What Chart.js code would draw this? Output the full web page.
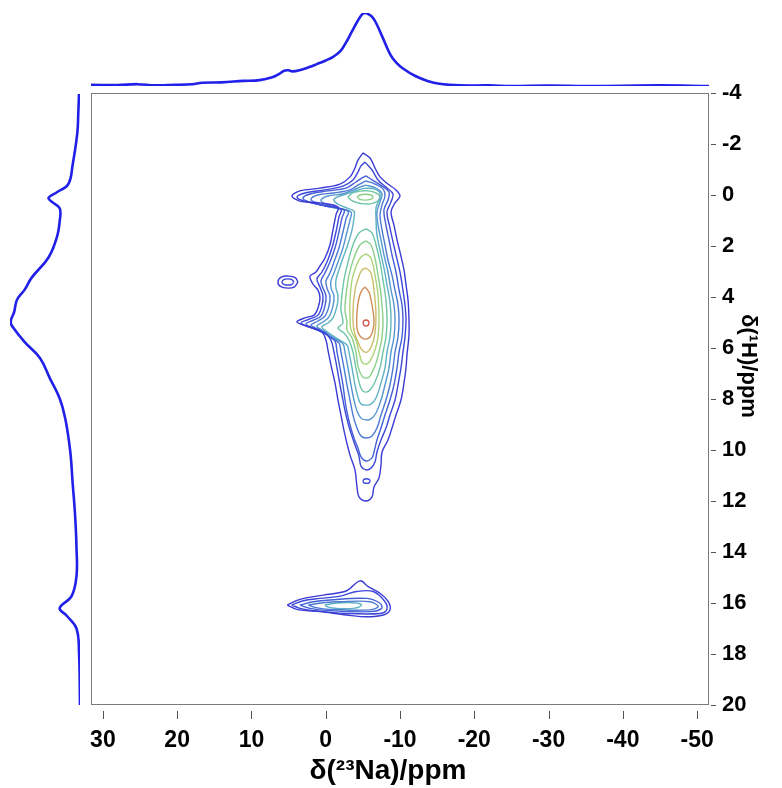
<!DOCTYPE html>
<html>
<head>
<meta charset="utf-8">
<script src="https://cdn.jsdelivr.net/npm/chart.js@4.4.0/dist/chart.umd.min.js"></script>
<style>
  html, body { margin: 0; padding: 0; background: #fff; }
  #wrap { position: relative; width: 782px; height: 788px; }
  #wrap canvas { position: absolute; left: 0; top: 0; }
</style>
</head>
<body>
<div id="wrap">
  <canvas id="mainChart" width="782" height="788"></canvas>
  <canvas id="topChart" width="782" height="92"></canvas>
  <canvas id="leftChart" width="91" height="788"></canvas>
</div>
<script>
// axis ranges and tick labels (ppm)
var naRange = [-51.6, 31.6];
var hRange = [-4, 20];
var naTicks = [30, 20, 10, 0, -10, -20, -30, -40, -50];
var hTicks = [-4, -2, 0, 2, 4, 6, 8, 10, 12, 14, 16, 18, 20];

// 23Na projection (top): shift in ppm, intensity in %
var topShift = [31.6, 28, 25.4, 23, 20.4, 18, 16.6, 14, 11.1, 8.9, 7.2, 6.2, 5.6, 5.0, 4.5, 3.4, 2.2, 1.2, 0, -1.0, -2.0, -2.7, -3.5, -4.3, -4.9, -5.3, -5.8, -6.3, -6.8, -7.6, -8.7, -9.5, -10.4, -12.0, -13.7, -15.3, -18.1, -22, -25, -30, -35, -40, -45, -51.6];
var topInt = [1.5, 1.2, 2.5, 1, 1.5, 2.5, 4.5, 5, 7, 8, 12, 17, 21, 21.5, 20, 22, 26, 30, 35, 40, 48, 59, 74, 89, 98, 100, 98, 94, 86, 68, 43, 32, 24, 14, 7, 3, 0.8, 0.8, 0, 0.5, 0, 0.3, 0.8, 0];

// 1H projection (left): shift in ppm, intensity in %
var leftShift = [-3.96, -3.24, -2.45, -1.19, -0.43, -0.11, 0.11, 0.27, 0.52, 1.02, 1.65, 2.45, 3.24, 3.71, 4.11, 4.58, 4.98, 5.22, 5.77, 6.4, 7.19, 7.98, 8.77, 10.04, 11.3, 12.57, 13.83, 14.94, 15.73, 16.2, 16.5, 17.0, 17.95, 20];
var leftInt = [1.4, 2.4, 3.8, 10.5, 16.7, 33, 45, 40, 29, 29, 33, 45, 69, 79, 90, 94, 99, 95, 79, 57, 43, 29, 21, 14, 10.5, 7, 5, 5, 12, 29, 19, 5, 1.4, 0];

// contour lines, [d(23Na), d(1H)] in ppm, outer level first
var ridgeL1 = [[-5.02,-1.65],[-5.96,-1.45],[-6.63,-1.06],[-7.31,-0.71],[-8.38,-0.43],[-9.46,-0.20],[-10.0,0.04],[-9.33,0.31],[-8.79,0.67],[-9.19,1.18],[-9.60,1.76],[-10.0,2.24],[-10.54,2.94],[-10.81,3.53],[-11.08,4.12],[-11.21,4.90],[-11.21,5.49],[-10.94,6.27],[-10.81,6.78],[-10.54,7.37],[-10.13,8.04],[-9.46,8.63],[-8.92,9.14],[-8.38,9.61],[-7.58,10.08],[-7.44,10.59],[-7.17,11.10],[-6.50,11.45],[-6.23,11.84],[-5.42,12.0],[-4.48,11.84],[-4.21,11.45],[-3.94,10.78],[-3.27,10.20],[-2.59,9.41],[-2.05,8.63],[-1.65,8.04],[-1.25,7.37],[-0.71,6.67],[-0.30,6.08],[-0.03,5.69],[0.51,5.37],[2.12,5.18],[3.87,4.98],[2.79,4.82],[1.58,4.71],[1.04,4.43],[0.77,4.04],[1.04,3.73],[1.72,3.49],[2.12,3.18],[1.31,3.02],[0.77,2.78],[0.10,2.47],[-0.57,1.96],[-0.98,1.37],[-1.38,0.78],[-1.65,0.47],[0.77,0.31],[3.47,0.24],[4.55,0.04],[3.47,-0.16],[0.77,-0.27],[-1.92,-0.43],[-3.27,-0.71],[-3.94,-1.06],[-4.34,-1.37]];
var ridgeL2 = [[-5.29,-1.29],[-6.23,-0.98],[-7.04,-0.59],[-8.11,-0.31],[-9.06,-0.04],[-8.79,0.27],[-8.25,0.67],[-8.65,1.29],[-9.06,1.84],[-9.46,2.35],[-10.0,3.02],[-10.40,3.73],[-10.67,4.31],[-10.81,4.90],[-10.67,5.57],[-10.40,6.16],[-10.13,6.78],[-9.73,7.45],[-9.33,8.04],[-8.65,8.63],[-8.11,9.14],[-7.44,9.61],[-6.90,10.08],[-6.63,10.47],[-6.09,10.71],[-5.42,10.78],[-4.75,10.63],[-4.48,10.24],[-3.94,9.80],[-3.27,9.22],[-2.73,8.63],[-2.32,8.04],[-1.92,7.45],[-1.52,6.78],[-1.11,6.16],[-0.71,5.69],[0.10,5.41],[1.85,5.22],[3.33,5.02],[2.12,4.86],[1.04,4.71],[0.51,4.35],[0.37,3.96],[0.78,3.61],[1.18,3.29],[0.51,3.02],[-0.17,2.63],[-0.84,2.08],[-1.38,1.45],[-1.78,0.86],[-2.05,0.55],[0.51,0.39],[2.93,0.24],[3.87,0.08],[2.80,-0.08],[0.10,-0.20],[-2.32,-0.35],[-3.67,-0.59],[-4.34,-0.90],[-4.75,-1.14]];
var tailIslet = [[-5.0,11.22],[-5.15,11.15],[-5.49,11.13],[-5.83,11.15],[-5.96,11.22],[-5.83,11.29],[-5.49,11.31],[-5.15,11.29]];
var ridgeL3 = [[-5.42,-0.75],[-6.23,-0.59],[-7.58,-0.35],[-8.52,-0.12],[-8.38,0.20],[-7.84,0.59],[-8.11,1.18],[-8.52,1.76],[-8.92,2.35],[-9.46,3.02],[-9.87,3.73],[-10.27,4.31],[-10.40,4.90],[-10.27,5.57],[-9.87,6.16],[-9.60,6.78],[-9.19,7.45],[-8.65,8.04],[-7.98,8.63],[-7.44,9.14],[-6.90,9.61],[-6.50,10.08],[-6.23,10.31],[-5.42,10.43],[-4.75,10.27],[-4.34,9.92],[-3.80,9.53],[-3.27,9.02],[-2.86,8.51],[-2.59,8.04],[-2.32,7.45],[-1.92,6.78],[-1.52,6.16],[-1.25,5.73],[-0.17,5.49],[1.45,5.25],[2.66,5.06],[1.58,4.90],[0.64,4.75],[0.10,4.35],[-0.03,3.96],[0.37,3.65],[0.64,3.37],[0.10,3.06],[-0.57,2.63],[-1.25,2.08],[-1.78,1.45],[-2.19,0.90],[-2.46,0.59],[0.10,0.43],[2.26,0.27],[3.07,0.12],[2.12,-0.04],[-0.30,-0.16],[-2.73,-0.27],[-4.07,-0.51],[-4.88,-0.67]];
var ridgeL4 = [[-5.42,-0.55],[-6.63,-0.43],[-7.71,-0.24],[-7.98,0.04],[-7.58,0.39],[-7.31,0.78],[-7.58,1.37],[-7.98,1.96],[-8.38,2.55],[-8.92,3.14],[-9.33,3.73],[-9.73,4.31],[-9.87,4.90],[-9.73,5.57],[-9.33,6.16],[-9.06,6.78],[-8.65,7.45],[-8.11,8.04],[-7.44,8.63],[-6.90,9.14],[-6.23,9.45],[-5.42,9.53],[-4.75,9.45],[-4.21,9.14],[-3.67,8.63],[-3.27,8.04],[-2.86,7.45],[-2.46,6.78],[-2.05,6.16],[-1.78,5.80],[-0.57,5.57],[0.78,5.29],[1.98,5.10],[1.04,4.94],[0.10,4.75],[-0.44,4.35],[-0.57,3.96],[-0.17,3.65],[-0.03,3.37],[-0.57,3.06],[-1.11,2.63],[-1.78,2.08],[-2.32,1.45],[-2.73,0.94],[-3.00,0.63],[-0.57,0.47],[1.31,0.31],[1.98,0.16],[1.04,0.0],[-1.11,-0.08],[-3.27,-0.20],[-4.34,-0.39]];
var ridgeL5 = [[-5.42,-0.39],[-6.77,-0.27],[-7.58,-0.04],[-7.31,0.27],[-6.90,0.67],[-7.04,1.18],[-7.44,1.76],[-7.84,2.35],[-8.38,3.02],[-8.79,3.73],[-9.19,4.31],[-9.33,4.90],[-9.19,5.57],[-8.79,6.16],[-8.52,6.78],[-7.98,7.45],[-7.44,8.04],[-6.77,8.55],[-6.09,8.78],[-5.42,8.82],[-4.75,8.75],[-4.21,8.47],[-3.80,8.04],[-3.40,7.45],[-3.00,6.78],[-2.59,6.16],[-2.32,5.84],[-1.11,5.61],[0.10,5.37],[1.18,5.14],[0.37,4.98],[-0.44,4.78],[-0.98,4.35],[-1.11,3.96],[-0.71,3.65],[-0.71,3.37],[-1.11,3.06],[-1.65,2.63],[-2.32,2.08],[-2.86,1.45],[-3.27,0.98],[-3.40,0.67],[-1.38,0.51],[0.10,0.35],[0.64,0.20],[-0.30,0.04],[-2.19,-0.04],[-3.80,-0.20],[-4.61,-0.31]];
var ridgeL6 = [[-5.42,-0.27],[-6.50,-0.24],[-7.31,-0.08],[-7.17,0.20],[-6.77,0.51],[-6.77,0.98],[-6.90,1.57],[-7.31,2.16],[-7.84,2.86],[-8.25,3.53],[-8.65,4.20],[-8.79,4.90],[-8.65,5.57],[-8.25,6.16],[-7.98,6.78],[-7.44,7.37],[-6.77,7.96],[-6.09,8.20],[-5.42,8.24],[-4.75,8.20],[-4.34,7.92],[-3.94,7.45],[-3.54,6.78],[-3.13,6.16],[-2.86,5.88],[-1.65,5.65],[-0.44,5.41],[0.51,5.18],[-0.30,5.02],[-0.98,4.82],[-1.52,4.35],[-1.65,3.96],[-1.38,3.65],[-1.38,3.33],[-1.78,2.94],[-2.32,2.47],[-3.00,1.92],[-3.54,1.37],[-3.80,0.90],[-3.80,0.63],[-2.46,0.47],[-1.38,0.31],[-1.11,0.16],[-1.92,0.04],[-3.27,-0.08],[-4.34,-0.20]];
var lobeL7 = [[-3.0,0.08],[-3.6,-0.08],[-4.6,-0.15],[-5.6,-0.16],[-6.6,-0.10],[-7.3,0.04],[-7.1,0.22],[-6.3,0.33],[-5.2,0.35],[-4.2,0.30],[-3.4,0.20]];
var lobeL8 = [[-4.2,0.09],[-4.6,0.0],[-5.3,-0.03],[-6.0,-0.01],[-6.36,0.07],[-6.1,0.16],[-5.3,0.20],[-4.6,0.17]];
var peakL7 = [[-5.42,1.33],[-6.23,1.49],[-6.77,1.96],[-7.31,2.63],[-7.71,3.33],[-8.11,4.12],[-8.25,4.90],[-8.11,5.57],[-7.71,6.16],[-7.31,6.78],[-6.63,7.33],[-5.96,7.65],[-5.42,7.73],[-4.88,7.65],[-4.48,7.33],[-4.07,6.78],[-3.67,6.16],[-3.13,5.69],[-2.46,5.41],[-1.65,5.22],[-2.32,5.02],[-2.05,4.51],[-2.19,3.92],[-2.46,3.33],[-3.00,2.63],[-3.67,1.96],[-4.48,1.49]];
var peakL8 = [[-5.42,1.80],[-6.09,1.96],[-6.63,2.47],[-7.04,3.14],[-7.44,3.92],[-7.71,4.90],[-7.58,5.57],[-7.17,6.16],[-6.63,6.71],[-5.96,7.10],[-5.42,7.18],[-4.88,7.10],[-4.34,6.71],[-4.07,6.16],[-3.54,5.61],[-2.86,5.29],[-2.86,4.98],[-2.59,4.51],[-2.73,3.92],[-3.13,3.14],[-3.80,2.47],[-4.61,1.96]];
var peakL9 = [[-5.42,2.31],[-6.09,2.47],[-6.63,3.14],[-7.04,3.92],[-7.17,4.90],[-7.04,5.57],[-6.63,6.08],[-5.96,6.51],[-5.42,6.63],[-4.88,6.55],[-4.48,6.16],[-4.07,5.69],[-3.40,5.29],[-3.27,4.82],[-3.27,4.12],[-3.54,3.33],[-4.21,2.71],[-4.75,2.43]];
var peakL10 = [[-5.42,2.86],[-6.09,3.06],[-6.50,3.73],[-6.77,4.71],[-6.63,5.41],[-6.23,5.88],[-5.56,6.16],[-4.88,6.08],[-4.34,5.76],[-3.80,5.29],[-3.67,4.59],[-3.94,3.73],[-4.48,3.18],[-4.88,2.94]];
var peakL11 = [[-5.29,3.61],[-5.82,3.80],[-6.23,4.31],[-6.50,4.90],[-6.36,5.29],[-5.96,5.57],[-5.29,5.65],[-4.61,5.53],[-4.21,5.22],[-4.21,4.59],[-4.48,4.04],[-4.88,3.73]];
var peakL12 = [[-5.02,5.02],[-5.14,4.93],[-5.42,4.90],[-5.70,4.93],[-5.82,5.02],[-5.70,5.11],[-5.42,5.14],[-5.14,5.11]];
var spotL1 = [[3.74,3.41],[4.1,3.24],[5.0,3.18],[6.0,3.22],[6.43,3.40],[6.1,3.58],[5.1,3.65],[4.2,3.60]];
var spotL2 = [[4.28,3.41],[4.6,3.31],[5.1,3.29],[5.6,3.31],[5.89,3.41],[5.6,3.51],[5.1,3.53],[4.6,3.51]];
var lowL1 = [[5.18,16.08],[3.47,15.86],[0.33,15.69],[-2.82,15.52],[-4.61,15.13],[-5.73,15.36],[-7.31,15.62],[-8.42,15.95],[-8.65,16.27],[-7.75,16.47],[-5.52,16.54],[-2.82,16.47],[0.77,16.34],[3.91,16.25]];
var lowL2 = [[4.59,16.08],[3.02,15.91],[0.77,15.82],[-1.92,15.73],[-4.17,15.55],[-6.4,15.55],[-7.98,15.95],[-8.21,16.27],[-7.31,16.41],[-2.82,16.41],[1.68,16.30],[3.47,16.21]];
var lowL3 = [[3.47,16.08],[1.68,15.95],[-0.57,15.88],[-5.52,15.82],[-7.31,16.01],[-7.53,16.21],[-5.96,16.34],[-0.57,16.30],[2.12,16.21]];
var lowL4 = [[2.35,16.08],[0.33,15.99],[-1.92,15.95],[-5.96,15.95],[-7.08,16.14],[-5.96,16.27],[-0.57,16.25],[1.45,16.17]];
var lowL5 = [[0.10,16.08],[-1.47,16.0],[-3.71,15.99],[-4.84,16.08],[-3.94,16.20],[-1.47,16.21],[-0.13,16.14]];

// level of each contour line (index into levelColors)
var contourLines = [ridgeL1, ridgeL2, tailIslet, ridgeL3, ridgeL4, ridgeL5, ridgeL6, lobeL7, lobeL8,
  peakL7, peakL8, peakL9, peakL10, peakL11, peakL12, spotL1, spotL2, lowL1, lowL2, lowL3, lowL4, lowL5];
var contourLevels = [0, 1, 1, 2, 3, 4, 5, 6, 7, 6, 7, 8, 9, 10, 11, 0, 1, 0, 1, 2, 3, 5];
var levelColors = ['#3b3bd6', '#3e48d8', '#4460d6', '#4b7ad3', '#5496cf', '#5fb2c4', '#6fc6a6', '#8ad08a', '#acd378', '#cbbd6c', '#d08e5a', '#d0504a'];

var fontFamily = "'Liberation Sans', Arial, sans-serif";

function closeLoop(pts) {
  var out = pts.map(function(p) { return { x: p[0], y: p[1] }; });
  out.push({ x: pts[0][0], y: pts[0][1] });
  return out;
}

var frameAndTitles = {
  id: 'frameAndTitles',
  afterDraw: function(chart) {
    var ctx = chart.ctx;
    var a = chart.chartArea;
    var xs = chart.scales.x;
    var ys = chart.scales.y;
    ctx.save();
    ctx.strokeStyle = '#7a7a7a';
    ctx.lineWidth = 1;
    ctx.strokeRect(a.left + 0.5, a.top + 0.5, a.right - a.left - 1, a.bottom - a.top - 1);
    // small tick marks, set off from the frame
    ctx.strokeStyle = '#555';
    ctx.beginPath();
    naTicks.forEach(function(v) {
      var px = Math.round(xs.getPixelForValue(v)) + 0.5;
      ctx.moveTo(px, a.bottom + 6);
      ctx.lineTo(px, a.bottom + 14);
    });
    hTicks.forEach(function(v) {
      var py = Math.round(ys.getPixelForValue(v)) + 0.5;
      ctx.moveTo(a.right + 2, py);
      ctx.lineTo(a.right + 7, py);
    });
    ctx.stroke();

    ctx.fillStyle = '#000';
    ctx.textAlign = 'center';
    ctx.textBaseline = 'middle';
    ctx.font = 'bold 28px ' + fontFamily;
    ctx.fillText('δ(²³Na)/ppm', 388, 771);
    ctx.translate(748, 366);
    ctx.rotate(Math.PI / 2);
    ctx.font = 'bold 22px ' + fontFamily;
    ctx.fillText('δ(¹H)/ppm', 0, 0);
    ctx.restore();
  }
};

var contourSets = contourLines.map(function(pts, i) {
  return {
    data: closeLoop(pts),
    showLine: true,
    borderColor: levelColors[contourLevels[i]],
    borderWidth: 1.4,
    pointRadius: 0,
    tension: 0.35,
    fill: false
  };
});

new Chart(document.getElementById('mainChart'), {
  type: 'scatter',
  data: { datasets: contourSets },
  options: {
    responsive: false,
    animation: false,
    devicePixelRatio: 1,
    layout: { padding: { left: 91, top: 93, right: 0, bottom: 0 } },
    plugins: { legend: { display: false }, tooltip: { enabled: false } },
    scales: {
      x: {
        type: 'linear', min: naRange[0], max: naRange[1], reverse: true,
        afterFit: function(s) { s.height = 83; },
        afterBuildTicks: function(s) { s.ticks = naTicks.map(function(v) { return { value: v }; }); },
        grid: { display: false }, border: { display: false },
        ticks: {
          color: '#000', padding: 14, autoSkip: false, maxRotation: 0,
          font: { family: fontFamily, size: 23, weight: 'bold' },
          callback: function(v) { return String(v); }
        }
      },
      y: {
        type: 'linear', position: 'right', min: hRange[0], max: hRange[1], reverse: true,
        afterFit: function(s) { s.width = 73; },
        afterBuildTicks: function(s) { s.ticks = hTicks.map(function(v) { return { value: v }; }); },
        grid: { display: false }, border: { display: false },
        ticks: {
          color: '#000', padding: 5, autoSkip: false,
          font: { family: fontFamily, size: 22, weight: 'bold' },
          callback: function(v) { return String(v); }
        }
      }
    }
  },
  plugins: [frameAndTitles]
});

new Chart(document.getElementById('topChart'), {
  type: 'scatter',
  data: {
    datasets: [{
      data: topShift.map(function(v, i) { return { x: v, y: topInt[i] }; }),
      showLine: true, borderColor: '#2020e8', borderWidth: 2.6, pointRadius: 0, tension: 0.4
    }]
  },
  options: {
    responsive: false, animation: false, devicePixelRatio: 1,
    layout: { padding: { left: 91, right: 73, top: 13, bottom: 6 } },
    plugins: { legend: { display: false }, tooltip: { enabled: false } },
    scales: {
      x: { type: 'linear', display: false, min: naRange[0], max: naRange[1], reverse: true },
      y: { type: 'linear', display: false, min: 0, max: 100 }
    }
  }
});

new Chart(document.getElementById('leftChart'), {
  type: 'scatter',
  data: {
    datasets: [{
      data: leftShift.map(function(v, i) { return { x: leftInt[i], y: v }; }),
      showLine: true, borderColor: '#2020e8', borderWidth: 2.6, pointRadius: 0, tension: 0.4
    }]
  },
  options: {
    responsive: false, animation: false, devicePixelRatio: 1,
    layout: { padding: { left: 10, right: 11, top: 93, bottom: 83 } },
    plugins: { legend: { display: false }, tooltip: { enabled: false } },
    scales: {
      x: { type: 'linear', display: false, min: 0, max: 100, reverse: true },
      y: { type: 'linear', display: false, min: hRange[0], max: hRange[1], reverse: true }
    }
  }
});
</script>
</body>
</html>
